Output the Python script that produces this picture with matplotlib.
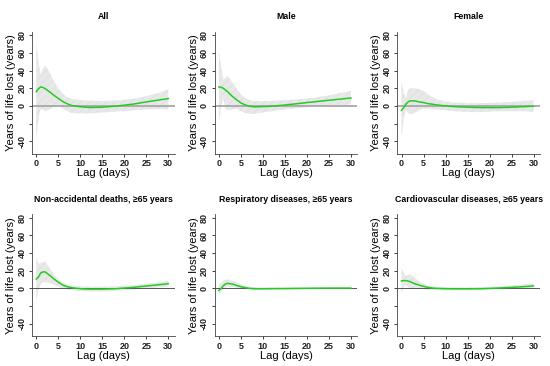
import matplotlib
matplotlib.use('Agg')
import matplotlib.pyplot as plt

plt.rcParams['font.family'] = ['Liberation Sans', 'DejaVu Sans']
plt.rcParams['hatch.linewidth'] = 0.4

lags = [0, 0.5, 1, 1.5, 2, 3, 4, 5, 6, 7, 8, 10, 12, 15, 18, 20, 22, 25, 28, 30]

titles = ['All', 'Male', 'Female',
          'Non-accidental deaths, \u226565 years',
          'Respiratory diseases, \u226565 years',
          'Cardiovascular diseases, \u226565 years']

# estimate, upper and lower bound of years of life lost
all_est = [16, 19.5, 21.5, 21, 19.5, 16, 12, 8.5, 5, 2.5, 0.5, -1, -1.8, -1.5, -0.3, 0.8, 2, 4.5, 6.8, 8.3]
all_hi = [70, 50, 35, 42, 46, 38, 28, 20, 14, 10, 8, 6.5, 6, 5.5, 6, 7, 8, 11, 15, 19]
all_lo = [-38, -15, -3, -4, -6, -4, -1, 0, -3, -6, -8, -8.5, -8.5, -7.5, -6.5, -6, -5, -4, -3.5, -4]

male_est = [21.5, 21, 20, 18, 16, 11, 7, 3.4, 1, -0.4, -1.1, -0.8, -0.4, 1, 2.6, 3.8, 4.8, 6.4, 7.9, 9]
male_hi = [62, 45, 30, 32, 34, 27, 20, 13, 9, 6.5, 5.5, 5.5, 5.5, 6.5, 7.5, 8.5, 9.5, 12, 15, 17]
male_lo = [-19, 0, 8, -3, -5, -4, -3, -6, -8, -9, -9, -7.5, -6, -4, -2.5, -1.5, -0.5, 0.5, 1, 1.5]

female_est = [-5, -2, 2, 4.5, 5.7, 5.7, 4.5, 3.8, 2.6, 2, 1.1, 0, -0.8, -1.5, -1.9, -1.9, -1.9, -1.5, -0.8, -0.4]
female_hi = [28, 15, 8, 18, 20, 20, 19, 17, 13, 10, 7.5, 5, 3.8, 3, 3.2, 3.4, 3.8, 4.5, 5.7, 6.4]
female_lo = [-36, -15, -4, -8, -9.4, -8, -5, -3, -3, -3.5, -4, -5, -6, -7, -7, -6.5, -6, -6, -6, -7]

nonacc_est = [10.7, 13, 17.5, 18.7, 18.7, 15, 10.7, 7, 3.8, 1.9, 0.8, -0.4, -0.8, -0.8, -0.4, 0.4, 1.1, 2.7, 4.2, 5.3]
nonacc_hi = [35, 28, 28.5, 30, 30.5, 23, 16, 10, 7, 4.5, 3.4, 2.3, 2, 2, 2.3, 3, 3.8, 5.3, 7.2, 8.8]
nonacc_lo = [-13, -2, 5, 7, 7, 6, 4, 2, 0, -1, -2, -3, -3.5, -3.5, -3, -2.2, -1.5, 0, 1.2, 1.8]

resp_est = [-2.3, 0, 3, 5, 5.7, 5, 3.4, 1.9, 0.8, 0, -0.4, -0.4, -0.3, -0.2, 0, 0.1, 0.2, 0.3, 0.3, 0.3]
resp_hi = [5, 6, 9, 10, 10, 9, 7, 4.5, 3, 2, 1.5, 1, 1, 1, 1, 1, 1.1, 1.1, 1.2, 1.2]
resp_lo = [-8, -4, -1, 1, 2, 1.5, 0.5, -0.5, -1, -1.5, -1.8, -1.8, -1.6, -1.4, -1.2, -1, -0.9, -0.8, -0.8, -0.8]

cardio_est = [8.4, 8.8, 8.8, 8.3, 7.6, 5.3, 3.8, 2.3, 1.1, 0.4, 0, -0.4, -0.5, -0.5, -0.4, 0, 0.4, 1.1, 2, 2.8]
cardio_hi = [23, 18, 14, 15, 16, 12, 8, 5.5, 3.5, 2.5, 2, 1.5, 1.3, 1.3, 1.5, 1.8, 2.3, 3.3, 4.6, 5.5]
cardio_lo = [-6, 2, 4, 1, 0, -0.5, -0.5, -1, -1.5, -2, -2.2, -2.3, -2.3, -2.2, -2, -1.6, -1.3, -0.8, -0.3, 0]

series = [(all_est, all_hi, all_lo), (male_est, male_hi, male_lo),
          (female_est, female_hi, female_lo), (nonacc_est, nonacc_hi, nonacc_lo),
          (resp_est, resp_hi, resp_lo), (cardio_est, cardio_hi, cardio_lo)]

fig, axes = plt.subplots(2, 3, figsize=(5.5, 3.66), dpi=100)
fig.subplots_adjust(left=0.058, right=0.982, bottom=0.082, top=0.913,
                    wspace=0.277, hspace=0.5)

for i, ax in enumerate(axes.flat):
    est, hi, lo = series[i]
    ax.fill_between(lags, lo, hi, facecolor='#e8e8e8', edgecolor='#dadada',
                    linewidth=0, hatch='////')
    if i < 3:
        ax.axhline(0, color='#a8a8a8', lw=1.3, zorder=1)
    else:
        ax.axhline(0, color='#555555', lw=0.7, zorder=1)
    ax.plot(lags, est, color='#22cc22', lw=1.1, zorder=3)

    ax.set_xlim(-1, 31.5)
    ax.set_ylim(-54, 84)
    ax.set_xticks([0, 5, 10, 15, 20, 25, 30])
    ax.set_yticks([-40, -20, 0, 20, 40, 60, 80])
    ax.set_yticklabels(['-40', '', '0', '20', '40', '60', '80'], rotation=90, va='center')
    ax.tick_params(labelsize=6.5, length=2.5, width=0.6, pad=1.5, colors='#222222')
    for lab in ax.get_xticklabels() + ax.get_yticklabels():
        lab.set_fontweight('bold')
    for s in ['top', 'right']:
        ax.spines[s].set_visible(False)
    for s in ['left', 'bottom']:
        ax.spines[s].set_linewidth(0.6)
        ax.spines[s].set_color('#444444')
    ax.set_title(titles[i], fontsize=6.3, fontweight='bold', pad=9)
    ax.set_xlabel('Lag (days)', fontsize=8, labelpad=0)
    ax.set_ylabel('Years of life lost (years)', fontsize=8, labelpad=1)

fig.savefig('out.png', dpi=100)
